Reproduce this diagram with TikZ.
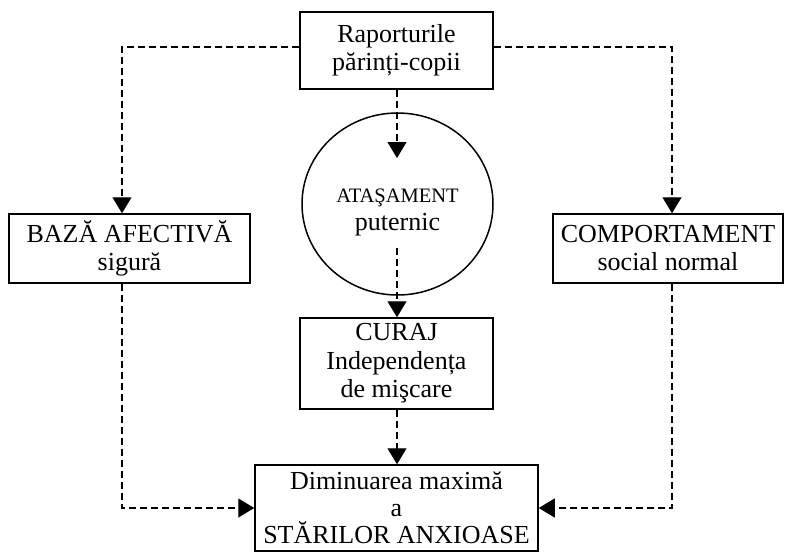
\documentclass[tikz,border=0pt]{standalone}
\usepackage{fontspec}
\setmainfont{Liberation Serif}
\usetikzlibrary{arrows.meta,shapes.geometric}
\begin{document}
\begin{tikzpicture}[x=1pt,y=-1pt,
  box/.style={draw,line width=1.5pt,rectangle,inner sep=0pt,align=center,
    font=\fontsize{26}{28}\selectfont},
  link/.style={line width=1.2pt,dash pattern=on 7pt off 4pt,
    -{Triangle[width=19pt,length=16pt]}}]
\useasboundingbox (0,0) rectangle (785,552);
\node[box,minimum width=193pt,minimum height=77pt] (top) at (396.5,50.5)
  {Raporturile\\părinți-copii};
\node[draw,line width=1.5pt,ellipse,minimum width=191pt,minimum height=182pt,
  inner sep=0pt] (circ) at (397.5,204) {};
\node[align=center,font=\fontsize{26}{28}\selectfont] (circtxt) at (397.5,212)
  {{\fontsize{20.5}{28}\selectfont ATAŞAMENT}\\puternic};
\node[box,minimum width=241pt,minimum height=69pt] (left) at (129.5,248.5)
  {BAZĂ AFECTIVĂ\\sigură};
\node[box,minimum width=230pt,minimum height=69pt] (right) at (668,248.5)
  {COMPORTAMENT\\social normal};
\node[box,minimum width=193pt,minimum height=91pt,font=\fontsize{26}{28.5}\selectfont] (curaj) at (396.5,363.5)
  {CURAJ\\Independența\\de mişcare};
\node[box,minimum width=283pt,minimum height=86pt,font=\fontsize{26}{27}\selectfont] (bottom) at (396.5,508)
  {Diminuarea maximă\\a\\STĂRILOR ANXIOASE};
\coordinate (lcol) at (122,0);
\coordinate (rcol) at (672,0);
\coordinate (mcol) at (397,0);
\coordinate (a1) at (397,158);
\coordinate (a2) at (397,248);
\draw[link] (top.west |- 0,47) -| (lcol |- left.north);
\draw[link] (top.east |- 0,47) -| (rcol |- right.north);
\draw[link] (top.south -| a1) -- (a1);
\draw[link] (a2) -- (a2 |- curaj.north);
\draw[link] (mcol |- curaj.south) -- (mcol |- bottom.north);
\draw[link] (lcol |- left.south) |- (bottom.west);
\draw[link] (rcol |- right.south) |- (bottom.east);
\end{tikzpicture}
\end{document}
